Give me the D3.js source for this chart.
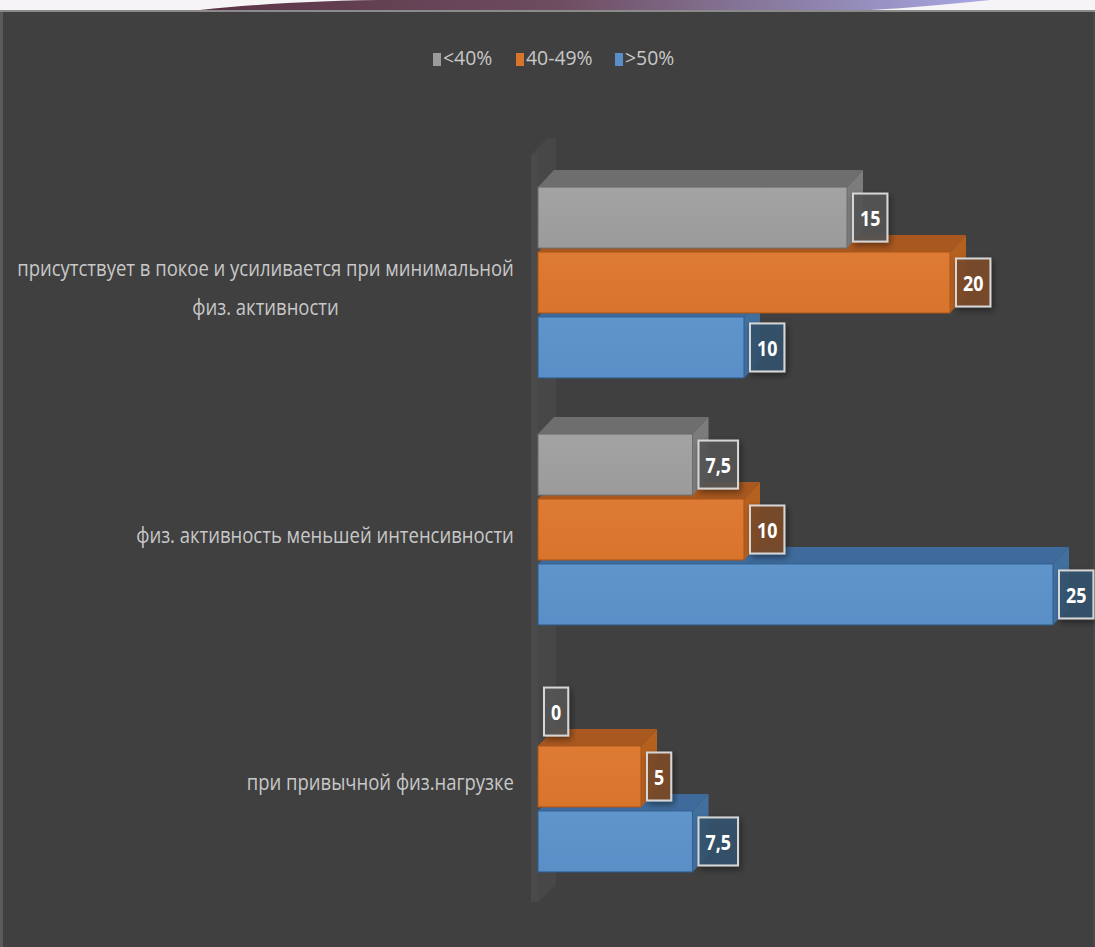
<!DOCTYPE html>
<html>
<head>
<meta charset="utf-8">
<script src="https://cdn.jsdelivr.net/npm/d3@7/dist/d3.min.js"></script>
<style>
  html, body { margin: 0; padding: 0; background: #404040; }
  svg { display: block; }
</style>
</head>
<body>
<svg id="chart" width="1095" height="947"></svg>
<script>
// Categories (top to bottom) and series
const categories = [
  ["присутствует в покое и усиливается при минимальной", "физ. активности"],
  ["физ. активность меньшей интенсивности"],
  ["при привычной физ.нагрузке"]
];
const categoryKeys = ["c1", "c2", "c3"];
const seriesNames = ["<40%", "40-49%", ">50%"];
const seriesLow = [15, 7.5, 0];     // <40%
const seriesMid = [20, 10, 5];      // 40-49%
const seriesHigh = [10, 25, 7.5];   // >50%
const valueLabels = [["15", "20", "10"], ["7,5", "10", "25"], ["0", "5", "7,5"]];

const palette = [
  { front: "#9b9b9b", frontTop: "#a3a3a3", top: "#6e6e6e", side: "#7c7c7c", edge: "#6a6a6a", box: "#555555" },
  { front: "#d9742d", frontTop: "#dd7a33", top: "#a9581f", side: "#b5601f", edge: "#a85418", box: "#7a4a2a" },
  { front: "#5a8ec6", frontTop: "#6095cc", top: "#3e6b9b", side: "#41709f", edge: "#2f5d8e", box: "#33536f" }
];

const svg = d3.select("#chart");
const W = 1095, H = 947;
const squeeze = 0.88;         // narrow face for category text
const depth = { dx: 16, dy: -17 };

svg.append("rect").attr("width", W).attr("height", H).attr("fill", "#404040");

// Decorative strip along the top of the slide
const defs = svg.append("defs");
const grad = defs.append("linearGradient").attr("id", "strip").attr("x1", "0").attr("x2", "1");
grad.append("stop").attr("offset", "0").attr("stop-color", "#5a3446");
grad.append("stop").attr("offset", "0.45").attr("stop-color", "#6e4c5f");
grad.append("stop").attr("offset", "0.75").attr("stop-color", "#8b7fa6");
grad.append("stop").attr("offset", "1").attr("stop-color", "#a9a9e6");
svg.append("rect").attr("x", 0).attr("y", 0).attr("width", W).attr("height", 10).attr("fill", "#f6f4f6");
svg.append("path")
  .attr("d", "M200,10 C260,4 320,0 400,0 L990,0 C950,4 910,8 870,10 Z")
  .attr("fill", "url(#strip)");
svg.append("rect").attr("x", 0).attr("y", 10).attr("width", W).attr("height", 2).attr("fill", "#8a8a8a");
svg.append("rect").attr("x", 0).attr("y", 12).attr("width", 3).attr("height", H - 12).attr("fill", "#5a5a5a");
svg.append("rect").attr("x", W - 2).attr("y", 12).attr("width", 2).attr("height", H - 12).attr("fill", "#4a4a4a");

const shadow = defs.append("filter").attr("id", "shadow").attr("x", "-30%").attr("y", "-30%").attr("width", "160%").attr("height", "160%");
shadow.append("feDropShadow").attr("dx", 2).attr("dy", 3).attr("stdDeviation", 3).attr("flood-color", "#000").attr("flood-opacity", 0.45);

// Scales
const x = d3.scaleLinear().domain([0, 25]).range([538, 1053]);
const yOuter = d3.scaleBand().domain(categoryKeys).range([159, 900]).paddingInner(0.227).paddingOuter(0.1135);
const yInner = d3.scaleBand().domain(seriesNames).range([0, yOuter.bandwidth()]).paddingInner(0.06).paddingOuter(0);

// Side wall of the value axis
const x0 = x(0);
const wallTop = yOuter.range()[0] - 4, wallBottom = yOuter.range()[1] + 2;
svg.append("path")
  .attr("d", `M${x0 - 7},${wallTop} L${x0 - 7 + depth.dx},${wallTop + depth.dy} L${x0 + depth.dx + 2},${wallTop + depth.dy}
    L${x0 + depth.dx + 2},${wallBottom + depth.dy} L${x0},${wallBottom} L${x0 - 7},${wallBottom} Z`)
  .attr("fill", "#474747");
svg.append("rect").attr("x", x0 - 7).attr("y", wallTop).attr("width", 7).attr("height", wallBottom - wallTop).attr("fill", "#4a4a4a");

// Legend
const legend = svg.append("g").attr("transform", "translate(0,60)");
const legendX = [433, 516, 615];
seriesNames.forEach((name, i) => {
  legend.append("rect").attr("x", legendX[i]).attr("y", -7).attr("width", 8).attr("height", 13).attr("fill", palette[i].front);
  legend.append("text")
    .attr("transform", `translate(${legendX[i] + 10},0) scale(0.97,1)`)
    .attr("dominant-baseline", "middle")
    .attr("font-family", "Open Sans, sans-serif").attr("font-size", 20)
    .attr("fill", "#c8c8c8").text(name);
});

// Category labels
const labelRight = 514;
categories.forEach((lines, ci) => {
  const cy = yOuter(categoryKeys[ci]) + yOuter.bandwidth() / 2 + 8;
  const lh = 39;
  const g = svg.append("g");
  const t = g.append("text")
    .attr("font-family", "Open Sans, sans-serif").attr("font-size", 21)
    .attr("fill", "#c8c8c8").attr("text-anchor", "middle").attr("dominant-baseline", "middle");
  lines.forEach((ln, li) => {
    t.append("tspan").attr("x", 0).attr("y", (li - (lines.length - 1) / 2) * lh).text(ln);
  });
  const w = t.node().getBBox().width * squeeze;
  g.attr("transform", `translate(${labelRight - w / 2},${cy}) scale(${squeeze},1)`);
});

// Bars, drawn bottom series first so upper bars sit in front of lower top faces
const series = [seriesLow, seriesMid, seriesHigh];
const fg = defs.selectAll("linearGradient.face").data(palette).enter().append("linearGradient")
  .attr("class", "face").attr("id", (d, i) => "face" + i).attr("x1", 0).attr("x2", 0).attr("y1", 0).attr("y2", 1);
fg.append("stop").attr("offset", 0).attr("stop-color", d => d.frontTop);
fg.append("stop").attr("offset", 1).attr("stop-color", d => d.front);

const bars = svg.append("g");
const labels = svg.append("g");
categoryKeys.forEach((ck, ci) => {
  for (let si = series.length - 1; si >= 0; si--) {
    const v = series[si][ci];
    const y = yOuter(ck) + yInner(seriesNames[si]);
    const h = yInner.bandwidth();
    const xv = x(v);
    const c = palette[si];
    const g = bars.append("g");
    if (v > 0) {
      g.append("path")
        .attr("d", `M${x0},${y} L${x0 + depth.dx},${y + depth.dy} L${xv + depth.dx},${y + depth.dy} L${xv},${y} Z`)
        .attr("fill", c.top);
      g.append("path")
        .attr("d", `M${xv},${y} L${xv + depth.dx},${y + depth.dy} L${xv + depth.dx},${y + h + depth.dy} L${xv},${y + h} Z`)
        .attr("fill", c.side);
      g.append("rect").attr("x", x0).attr("y", y).attr("width", xv - x0).attr("height", h)
        .attr("fill", `url(#face${si})`).attr("stroke", c.edge).attr("stroke-width", 1);
    }
  }
});

// Value labels in framed boxes to the right of each bar
categoryKeys.forEach((ck, ci) => {
  series.forEach((s, si) => {
    const v = s[ci];
    const y = yOuter(ck) + yInner(seriesNames[si]) + yInner.bandwidth() / 2;
    const g = labels.append("g");
    const t = g.append("text")
      .attr("font-family", "Open Sans, sans-serif").attr("font-weight", "bold").attr("font-size", 21)
      .attr("fill", "#ffffff").attr("text-anchor", "middle").attr("dominant-baseline", "central")
      .text(valueLabels[ci][si]);
    const tw = t.node().getComputedTextLength() * 0.85;
    t.attr("transform", `scale(0.85,1)`);
    const bw = tw + 14, bh = 48;
    g.insert("rect", "text").attr("x", -bw / 2).attr("y", -bh / 2).attr("width", bw).attr("height", bh)
      .attr("fill", palette[si].box).attr("fill-opacity", 0.9)
      .attr("stroke", "#d6d6d6").attr("stroke-width", 2).attr("filter", "url(#shadow)");
    g.attr("transform", `translate(${x(v) + 6 + bw / 2},${y})`);
  });
});
</script>
</body>
</html>
